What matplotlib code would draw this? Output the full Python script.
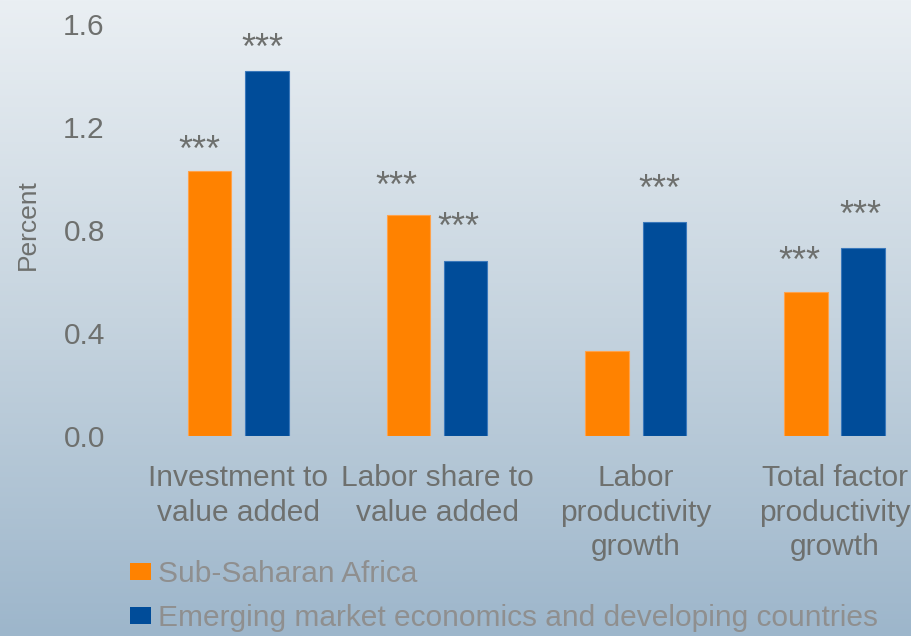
import numpy as np
import matplotlib
matplotlib.use("Agg")
import matplotlib.pyplot as plt
from matplotlib.patches import Patch
from matplotlib.colors import LinearSegmentedColormap

plt.rcParams['font.family'] = ['Liberation Sans', 'DejaVu Sans']

# Data
categories = ["Investment to\nvalue added", "Labor share to\nvalue added",
              "Labor\nproductivity\ngrowth", "Total factor\nproductivity\ngrowth"]
ssa_values = [1.03, 0.86, 0.33, 0.56]
emde_values = [1.42, 0.68, 0.83, 0.73]
ssa_signif = ["***", "***", "", "***"]
emde_signif = ["***", "***", "***", "***"]
series_labels = ["Sub-Saharan Africa", "Emerging market economics and developing countries"]
y_ticks = [0.0, 0.4, 0.8, 1.2, 1.6]

# Placement of the significance stars relative to each bar top (pixels)
ssa_star_dx = [-10, -12, 0, -6.5]
ssa_star_dy = [26, 34, 0, 36]
emde_star_dx = [-4, -7.7, -5, -2.5]
emde_star_dy = [27.5, 39, 38, 38]

ORANGE = "#ff8200"
BLUE = "#004c99"
TICK_GRAY = "#6e706e"
LEGEND_GRAY = "#8f8f8f"
FS = 21.5
STAR_FS = 26

W, H = 911, 636
fig = plt.figure(figsize=(W / 100, H / 100), dpi=100)
PT = 72 / 100  # points per pixel

# Vertical gradient background
bg = fig.add_axes([0, 0, 1, 1], zorder=-10)
grad = np.linspace(0, 1, 256).reshape(-1, 1)
cmap = LinearSegmentedColormap.from_list("bg", ["#eaeff3", "#c6d4df", "#9db6cb"])
bg.imshow(grad, aspect="auto", cmap=cmap, extent=[0, 1, 0, 1], origin="upper")
bg.set_axis_off()

# Plot area in pixel terms
left_px, right_px = 138.8, 911
bottom_px, top_px = 435.7, 24.3
ax = fig.add_axes([left_px / W, (H - bottom_px) / H,
                   (right_px - left_px) / W, (bottom_px - top_px) / H])
ax.patch.set_alpha(0)

x = np.arange(len(categories))
offset = 0.144
width = 0.219
ax.bar(x - offset, ssa_values, width, color=ORANGE,
       edgecolor="#ffa24a", linewidth=0.8)
ax.bar(x + offset, emde_values, width, color=BLUE,
       edgecolor="#3a78bb", linewidth=0.8)

# distance from the text baseline to the middle of the star glyphs
star_center = 0.44 * STAR_FS / PT


def add_stars(xs, values, marks, dxs, dys):
    for xi, v, s, dx, dy in zip(xs, values, marks, dxs, dys):
        if s:
            ax.annotate(s, (xi, v), xytext=(dx * PT, (dy - star_center) * PT),
                        textcoords="offset points", ha="center", va="baseline",
                        fontsize=STAR_FS, color=TICK_GRAY)


add_stars(x - offset, ssa_values, ssa_signif, ssa_star_dx, ssa_star_dy)
add_stars(x + offset, emde_values, emde_signif, emde_star_dx, emde_star_dy)

ax.set_xlim(-0.5, (right_px - 238.2) / 198.8)
ax.set_ylim(0, 1.6)
ax.set_yticks(y_ticks)
ax.set_yticklabels([f"{t:.1f}" for t in y_ticks])
ax.set_xticks(x)
ax.set_xticklabels(categories)
for lbl in ax.get_xticklabels():
    lbl.set_linespacing(1.3)
ax.tick_params(axis="y", length=0, pad=24.5, labelsize=FS, labelcolor=TICK_GRAY)
ax.tick_params(axis="x", length=0, pad=20.5, labelsize=FS, labelcolor=TICK_GRAY)
for sp in ax.spines.values():
    sp.set_visible(False)

fig.text(28 / W, 1 - 224.7 / H, "Percent", rotation=90, ha="center", va="center",
         fontsize=19, color=TICK_GRAY)

handles = [Patch(facecolor=ORANGE, edgecolor="none"), Patch(facecolor=BLUE, edgecolor="none")]
fig.legend(handles, series_labels, loc="upper left",
           bbox_to_anchor=(130 / W, 1 - 560 / H), frameon=False, fontsize=FS,
           labelcolor=LEGEND_GRAY, handlelength=0.7, handleheight=0.5,
           handletextpad=0.25, labelspacing=0.55, borderpad=0, borderaxespad=0)

fig.savefig("out.png", dpi=100)
